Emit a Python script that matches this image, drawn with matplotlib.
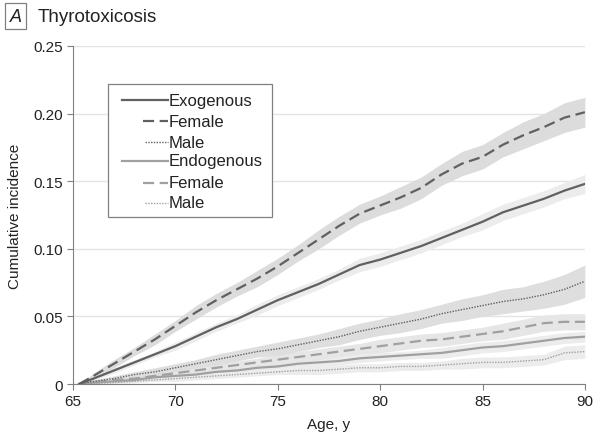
import matplotlib.pyplot as plt
import numpy as np
from matplotlib.patches import Rectangle
from matplotlib.lines import Line2D

ages = [65.3, 66, 67, 68, 69, 70, 71, 72, 73, 74, 75, 76, 77, 78, 79, 80,
        81, 82, 83, 84, 85, 86, 87, 88, 89, 90]

# exogenous
ex_total = [0, 0.004, 0.010, 0.016, 0.022, 0.028, 0.035, 0.042, 0.048, 0.055, 0.062, 0.068, 0.074,
            0.081, 0.088, 0.092, 0.097, 0.102, 0.108, 0.114, 0.120, 0.127, 0.132, 0.137, 0.143, 0.148]
ex_female = [0, 0.006, 0.015, 0.024, 0.033, 0.043, 0.053, 0.062, 0.070, 0.078, 0.087, 0.097, 0.107,
             0.117, 0.126, 0.132, 0.138, 0.145, 0.155, 0.163, 0.168, 0.177, 0.184, 0.190, 0.197, 0.201]
ex_male = [0, 0.002, 0.004, 0.007, 0.009, 0.012, 0.015, 0.018, 0.021, 0.024, 0.026, 0.029, 0.032,
           0.035, 0.039, 0.042, 0.045, 0.048, 0.052, 0.055, 0.058, 0.061, 0.063, 0.066, 0.070, 0.076]
# endogenous
en_total = [0, 0.001, 0.002, 0.003, 0.005, 0.006, 0.007, 0.009, 0.010, 0.012, 0.013, 0.015, 0.016,
            0.017, 0.019, 0.020, 0.021, 0.022, 0.023, 0.025, 0.027, 0.028, 0.030, 0.032, 0.034, 0.035]
en_female = [0, 0.001, 0.003, 0.004, 0.006, 0.008, 0.010, 0.012, 0.014, 0.016, 0.018, 0.020, 0.022,
             0.024, 0.026, 0.028, 0.030, 0.032, 0.033, 0.035, 0.037, 0.039, 0.042, 0.045, 0.046, 0.046]
en_male = [0, 0.0005, 0.001, 0.002, 0.003, 0.004, 0.005, 0.006, 0.007, 0.008, 0.009, 0.010, 0.010,
           0.011, 0.012, 0.012, 0.013, 0.013, 0.014, 0.015, 0.016, 0.016, 0.017, 0.018, 0.023, 0.024]

# half widths of the confidence bands
ex_total_hw = [0, 0.001, 0.002, 0.002, 0.002, 0.003, 0.003, 0.003, 0.003, 0.004, 0.004, 0.004, 0.004,
               0.004, 0.005, 0.005, 0.005, 0.005, 0.005, 0.005, 0.006, 0.006, 0.006, 0.006, 0.006, 0.007]
ex_female_hw = [0, 0.002, 0.003, 0.003, 0.004, 0.004, 0.005, 0.005, 0.005, 0.006, 0.006, 0.006, 0.007,
                0.007, 0.007, 0.007, 0.008, 0.008, 0.008, 0.009, 0.009, 0.009, 0.010, 0.010, 0.011, 0.011]
ex_male_hw = [0, 0.001, 0.002, 0.002, 0.003, 0.003, 0.003, 0.004, 0.004, 0.004, 0.005, 0.005, 0.005,
              0.006, 0.006, 0.006, 0.007, 0.007, 0.007, 0.008, 0.008, 0.009, 0.009, 0.010, 0.011, 0.012]
en_total_hw = [0, 0.001, 0.001, 0.001, 0.001, 0.002, 0.002, 0.002, 0.002, 0.002, 0.002, 0.003, 0.003,
               0.003, 0.003, 0.003, 0.003, 0.003, 0.004, 0.004, 0.004, 0.004, 0.004, 0.004, 0.004, 0.004]
en_female_hw = [0, 0.001, 0.001, 0.002, 0.002, 0.002, 0.003, 0.003, 0.003, 0.003, 0.004, 0.004, 0.004,
                0.004, 0.004, 0.005, 0.005, 0.005, 0.005, 0.005, 0.005, 0.006, 0.006, 0.006, 0.006, 0.006]
en_male_hw = [0, 0.001, 0.001, 0.001, 0.001, 0.002, 0.002, 0.002, 0.002, 0.002, 0.002, 0.003, 0.003,
              0.003, 0.003, 0.003, 0.003, 0.003, 0.003, 0.004, 0.004, 0.004, 0.004, 0.004, 0.005, 0.005]

x_ticks = [65, 70, 75, 80, 85, 90]
y_ticks = [0, 0.05, 0.10, 0.15, 0.20, 0.25]
y_labels = ['0', '0.05', '0.10', '0.15', '0.20', '0.25']

dark = '#606060'
light = '#a0a0a0'
dashes = (5, 2.5)
dots = (1, 1)

plt.rcParams['font.family'] = ['Liberation Sans', 'DejaVu Sans']

fig = plt.figure(figsize=(5.95, 4.39), dpi=100)
ax = fig.add_axes([0.1227, 0.123, 0.8603, 0.77])

series = [
    (en_male, en_male_hw, light, dots, 1.0, '#ececec'),
    (en_total, en_total_hw, light, None, 1.6, '#ececec'),
    (en_female, en_female_hw, light, dashes, 1.6, '#e6e6e6'),
    (ex_male, ex_male_hw, dark, dots, 1.0, '#dedede'),
    (ex_total, ex_total_hw, dark, None, 1.6, '#ececec'),
    (ex_female, ex_female_hw, dark, dashes, 1.6, '#dcdcdc'),
]
for y, hw, col, ls, lw, band in series:
    y = np.array(y)
    hw = np.array(hw)
    ax.fill_between(ages, y - hw, y + hw, color=band, lw=0, zorder=1)
for y, hw, col, ls, lw, band in series:
    if ls is None:
        ax.plot(ages, y, color=col, lw=lw, zorder=3)
    else:
        ax.plot(ages, y, color=col, lw=lw, dashes=ls, zorder=3)

ax.set_xlim(65, 90)
ax.set_ylim(0, 0.25)
ax.set_xticks(x_ticks)
ax.set_yticks(y_ticks)
ax.set_yticklabels(y_labels)
ax.grid(axis='y', color='#e4e4e4', lw=1)
ax.set_axisbelow(True)
for s in ['top', 'right']:
    ax.spines[s].set_visible(False)
for s in ['left', 'bottom']:
    ax.spines[s].set_color('#808080')
ax.tick_params(colors='#808080', labelcolor='#222222', labelsize=11, length=4)
ax.set_xlabel('Age, y', fontsize=11, color='#222222', labelpad=6)
ax.set_ylabel('Cumulative incidence', fontsize=11, color='#222222', labelpad=8)

# hand-made legend with indented sub entries
ax.add_patch(Rectangle((0.068, 0.494), 0.321, 0.394, transform=ax.transAxes,
                       fill=True, facecolor='white', edgecolor='#808080', lw=0.9, zorder=5))
rows = [
    ('Exogenous', dark, None, 1.6, 0.095, 0.185, 0.839),
    ('Female', dark, dashes, 1.6, 0.136, 0.185, 0.777),
    ('Male', dark, dots, 1.0, 0.141, 0.185, 0.715),
    ('Endogenous', light, None, 1.6, 0.095, 0.185, 0.660),
    ('Female', light, dashes, 1.6, 0.136, 0.185, 0.595),
    ('Male', light, dots, 1.0, 0.141, 0.185, 0.536),
]
for label, col, ls, lw, x0, x1, yy in rows:
    kw = {} if ls is None else {'dashes': ls}
    ax.add_line(Line2D([x0, x1], [yy, yy], transform=ax.transAxes, color=col, lw=lw,
                       zorder=6, **kw))
    ax.text(x1 + 0.002, yy, label, transform=ax.transAxes, fontsize=12, color='#222222',
            va='center', ha='left', zorder=6)

# panel title
fig.text(0.026, 0.961, 'A', fontsize=13, style='italic', color='#222222', ha='center', va='center',
         bbox=dict(boxstyle='square,pad=0.25', fc='white', ec='#808080', lw=0.9))
fig.text(0.063, 0.960, 'Thyrotoxicosis', fontsize=13.5, color='#222222', ha='left', va='center')

fig.savefig('out.png', dpi=100)
